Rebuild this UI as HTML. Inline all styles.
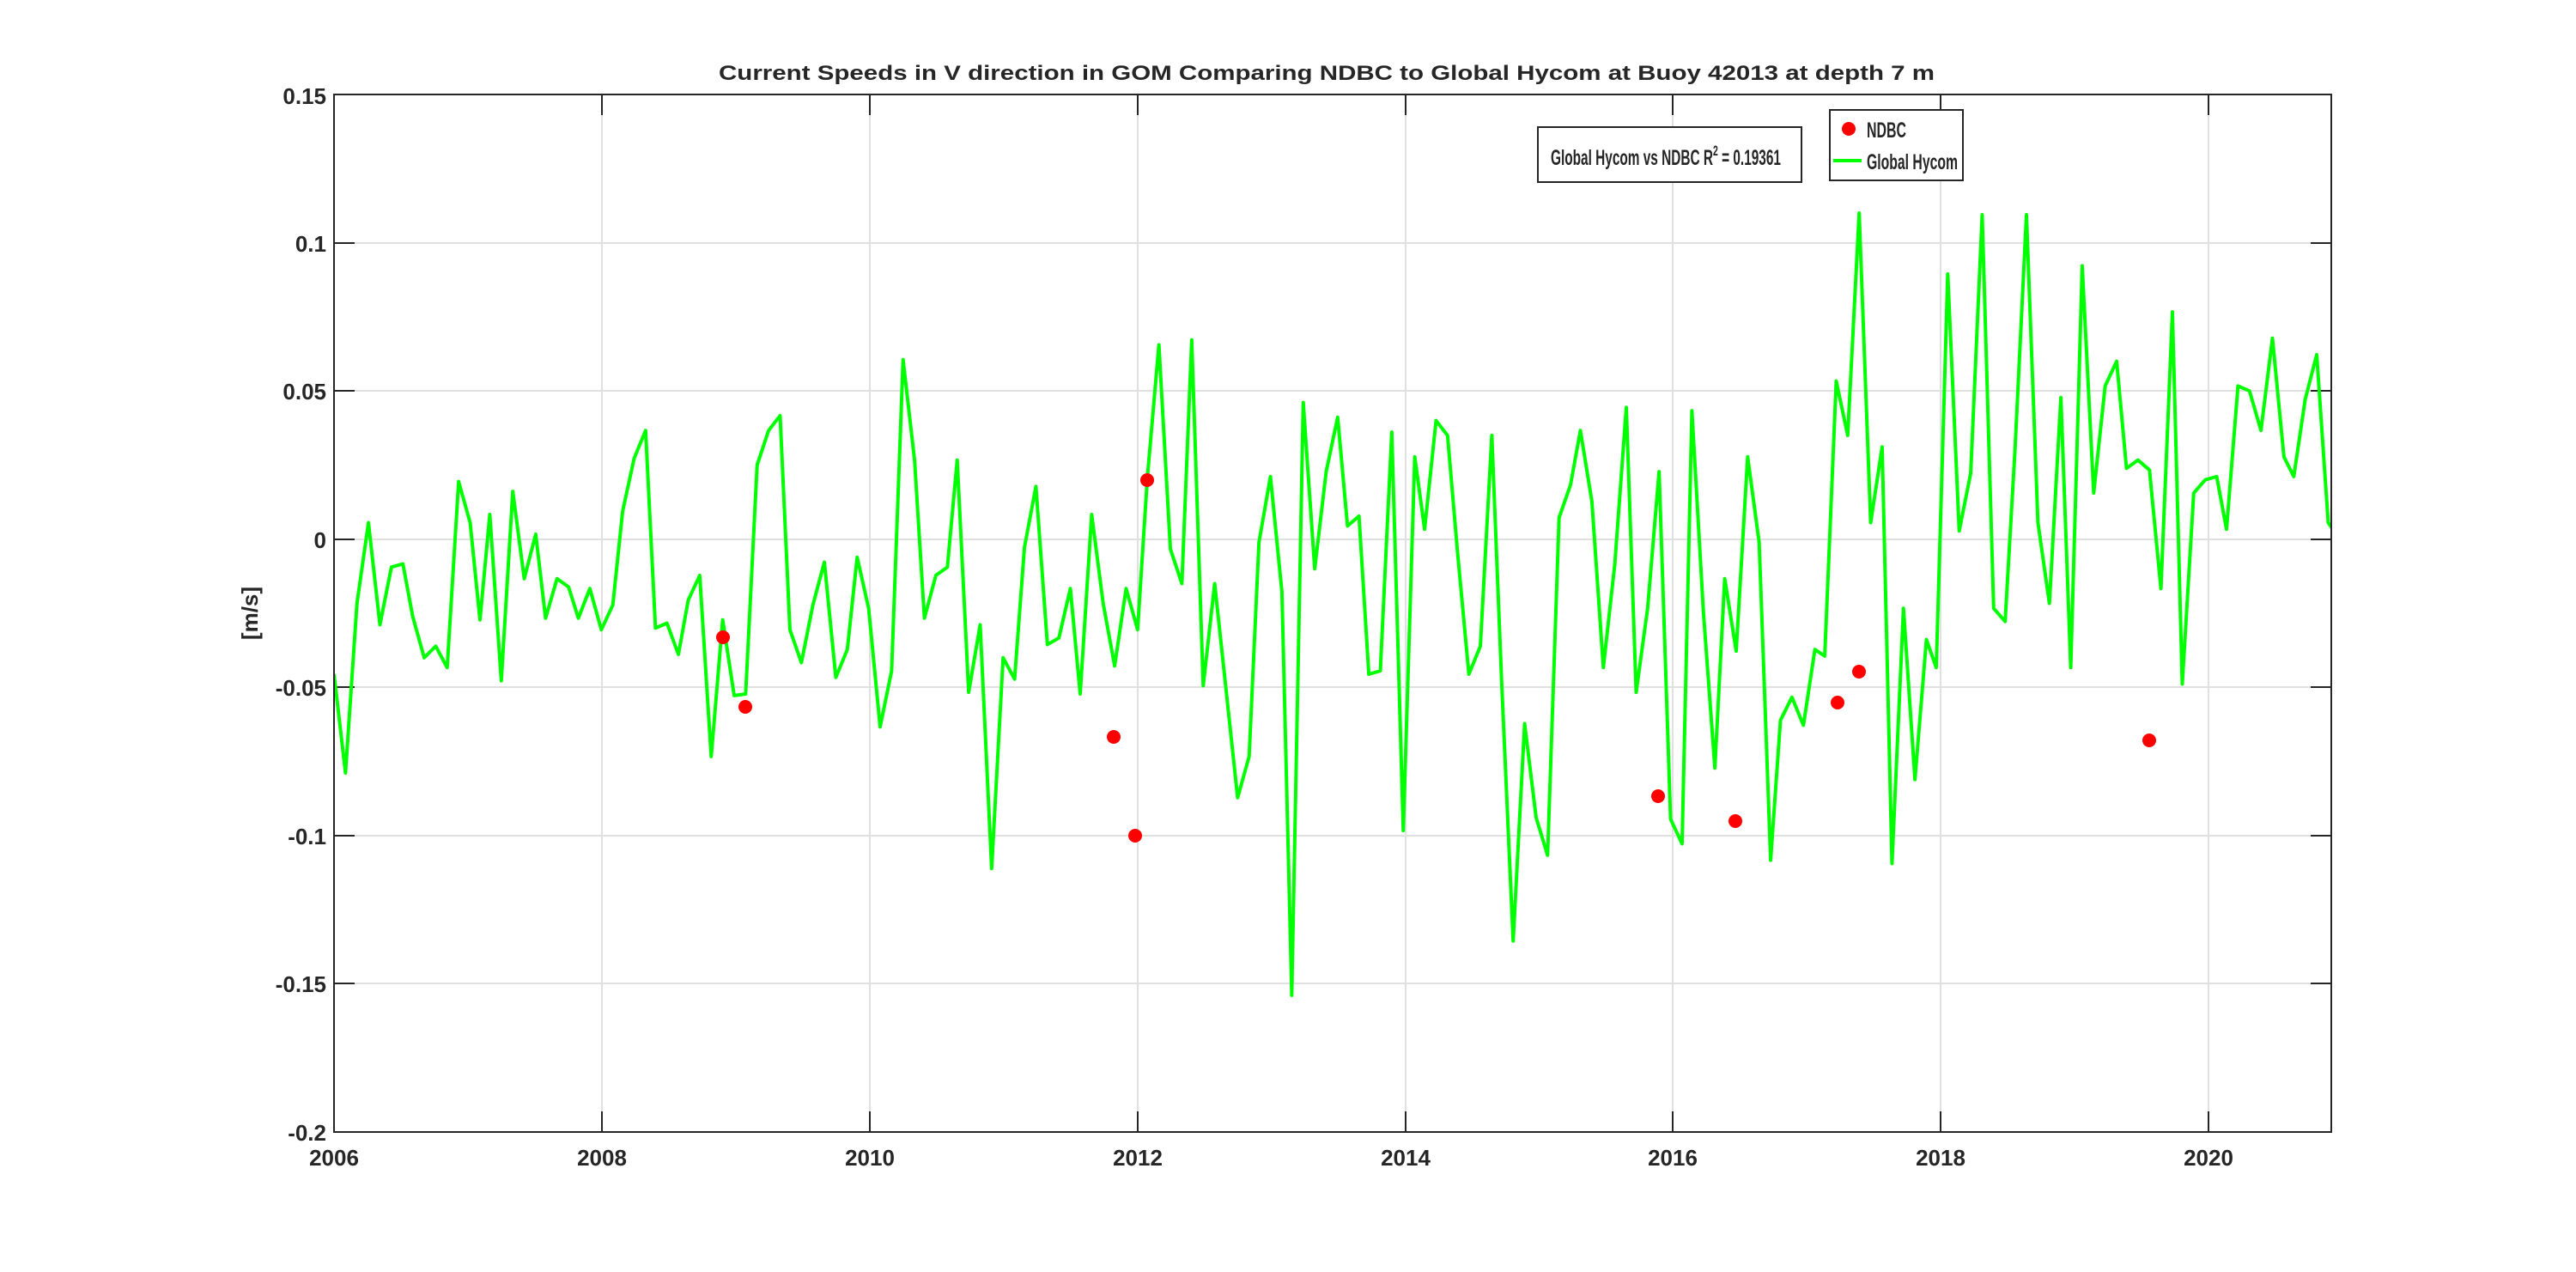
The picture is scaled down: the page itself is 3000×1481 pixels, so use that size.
<!DOCTYPE html>
<html><head><meta charset="utf-8"><style>
html,body{margin:0;padding:0;background:#fff;}
svg{display:block;}
text{font-family:"Liberation Sans",Arial,sans-serif;font-weight:bold;fill:#262626;}
</style></head><body>
<svg width="3000" height="1481" viewBox="0 0 3000 1481" xmlns="http://www.w3.org/2000/svg">
<defs><clipPath id="c"><rect x="389" y="110" width="2326" height="1208"/></clipPath></defs>
<g stroke="#e0e0e0" stroke-width="2">
<line x1="701" y1="110" x2="701" y2="1318"/><line x1="1013" y1="110" x2="1013" y2="1318"/><line x1="1325" y1="110" x2="1325" y2="1318"/><line x1="1637" y1="110" x2="1637" y2="1318"/><line x1="1948" y1="110" x2="1948" y2="1318"/><line x1="2260" y1="110" x2="2260" y2="1318"/><line x1="2572" y1="110" x2="2572" y2="1318"/>
<line x1="389" y1="283" x2="2715" y2="283"/><line x1="389" y1="455" x2="2715" y2="455"/><line x1="389" y1="628" x2="2715" y2="628"/><line x1="389" y1="800" x2="2715" y2="800"/><line x1="389" y1="973" x2="2715" y2="973"/><line x1="389" y1="1145" x2="2715" y2="1145"/>
</g>
<g stroke="#262626" stroke-width="2">
<line x1="701" y1="1318" x2="701" y2="1294"/><line x1="1013" y1="1318" x2="1013" y2="1294"/><line x1="1325" y1="1318" x2="1325" y2="1294"/><line x1="1637" y1="1318" x2="1637" y2="1294"/><line x1="1948" y1="1318" x2="1948" y2="1294"/><line x1="2260" y1="1318" x2="2260" y2="1294"/><line x1="2572" y1="1318" x2="2572" y2="1294"/>
<line x1="701" y1="110" x2="701" y2="134"/><line x1="1013" y1="110" x2="1013" y2="134"/><line x1="1325" y1="110" x2="1325" y2="134"/><line x1="1637" y1="110" x2="1637" y2="134"/><line x1="1948" y1="110" x2="1948" y2="134"/><line x1="2260" y1="110" x2="2260" y2="134"/><line x1="2572" y1="110" x2="2572" y2="134"/>
<line x1="389" y1="283" x2="413" y2="283"/><line x1="389" y1="455" x2="413" y2="455"/><line x1="389" y1="628" x2="413" y2="628"/><line x1="389" y1="800" x2="413" y2="800"/><line x1="389" y1="973" x2="413" y2="973"/><line x1="389" y1="1145" x2="413" y2="1145"/>
<line x1="2715" y1="283" x2="2691" y2="283"/><line x1="2715" y1="455" x2="2691" y2="455"/><line x1="2715" y1="628" x2="2691" y2="628"/><line x1="2715" y1="800" x2="2691" y2="800"/><line x1="2715" y1="973" x2="2691" y2="973"/><line x1="2715" y1="1145" x2="2691" y2="1145"/>
</g>
<g clip-path="url(#c)">
<g transform="translate(389,110) scale(1.90989,1.9175) translate(-203,-58)">
<polyline fill="none" stroke="#00ff00" stroke-width="4" vector-effect="non-scaling-stroke" stroke-linejoin="round" points="203,410 210,470 217,367 224,318 231,380 238,345 245,343 251,375 258,400 265,393 272,406 279,293 286,318 292,377 298,313 305,414 312,299 319,352 326,325 332,376 339,352 346,357 352,376 359,358 366,383 373,368 379,311 386,279 393,262 399,382 406,379 413,398 419,365 426,350 433,460 440,377 447,423 454,422 461,283 468,262 475,253 481,383 488,403 495,368 502,342 509,412 516,395 522,339 529,370 536,442 543,408 550,219 557,280 563,376 570,350 577,345 583,280 590,421 597,380 604,528 611,400 618,413 624,333 631,296 638,392 645,388 652,358 658,422 665,313 672,367 679,405 686,358 693,383 699,290 706,210 713,334 720,355 726,207 733,417 740,355 747,420 754,485 761,460 767,330 774,290 781,360 787,605 794,245 801,346 808,287 815,254 821,320 828,314 834,410 841,408 848,263 855,505 862,278 868,322 875,256 882,265 888,335 895,410 902,393 909,265 915,415 922,572 929,440 936,497 943,520 950,315 957,295 963,262 970,305 977,406 984,343 991,248 997,421 1004,370 1011,287 1018,498 1025,513 1031,250 1038,372 1045,467 1051,352 1058,396 1065,278 1072,330 1079,523 1085,438 1092,424 1099,441 1106,395 1112,399 1119,232 1126,265 1133,130 1140,318 1147,272 1153,525 1160,370 1167,474 1174,389 1180,406 1187,167 1194,323 1201,288 1208,131 1215,370 1222,378 1228,274 1235,131 1242,318 1249,367 1256,242 1262,406 1269,162 1276,300 1283,235 1290,220 1296,285 1303,280 1310,286 1317,358 1324,190 1330,416 1337,300 1344,292 1351,290 1357,322 1364,235 1371,238 1378,262 1385,206 1392,278 1398,290 1405,243 1412,216 1419,318 1426,328"/>
</g>
<g fill="#ff0000">
<circle cx="842" cy="742" r="8"/><circle cx="868" cy="823" r="8"/><circle cx="1297" cy="858" r="8"/><circle cx="1322" cy="973" r="8"/><circle cx="1336" cy="559" r="8"/><circle cx="1931" cy="927" r="8"/><circle cx="2021" cy="956" r="8"/><circle cx="2140" cy="818" r="8"/><circle cx="2165" cy="782" r="8"/><circle cx="2503" cy="862" r="8"/>
</g>
</g>
<rect x="389" y="110" width="2326" height="1208" fill="none" stroke="#262626" stroke-width="2"/>
<g font-size="26" text-anchor="end">
<text x="380" y="121">0.15</text><text x="380" y="293">0.1</text><text x="380" y="465">0.05</text><text x="380" y="638">0</text><text x="380" y="810">-0.05</text><text x="380" y="983">-0.1</text><text x="380" y="1155">-0.15</text><text x="380" y="1328">-0.2</text>
</g>
<g font-size="26" text-anchor="middle">
<text x="389" y="1357">2006</text><text x="701" y="1357">2008</text><text x="1013" y="1357">2010</text><text x="1325" y="1357">2012</text><text x="1637" y="1357">2014</text><text x="1948" y="1357">2016</text><text x="2260" y="1357">2018</text><text x="2572" y="1357">2020</text>
</g>
<text x="837" y="93" font-size="24" textLength="1416" lengthAdjust="spacingAndGlyphs" fill="#000">Current Speeds in V direction in GOM Comparing NDBC to Global Hycom at Buoy  42013  at depth  7 m</text>
<text transform="translate(300,714) rotate(-90)" font-size="26" text-anchor="middle">[m/s]</text>
<rect x="1791" y="148" width="307" height="64" fill="#fff" stroke="#262626" stroke-width="2"/>
<text x="1806" y="192" font-size="25" fill="#000" textLength="268" lengthAdjust="spacingAndGlyphs">Global Hycom vs NDBC R<tspan dy="-11" font-size="17">2</tspan><tspan dy="11"> = 0.19361</tspan></text>
<rect x="2131" y="128" width="155" height="82" fill="#fff" stroke="#262626" stroke-width="2"/>
<circle cx="2153" cy="150" r="8" fill="#ff0000"/>
<text x="2174" y="160" font-size="25" fill="#000" textLength="46" lengthAdjust="spacingAndGlyphs">NDBC</text>
<line x1="2135" y1="187" x2="2168" y2="187" stroke="#00ff00" stroke-width="4"/>
<text x="2174" y="197" font-size="25" fill="#000" textLength="106" lengthAdjust="spacingAndGlyphs">Global Hycom</text>
</svg>
</body></html>
